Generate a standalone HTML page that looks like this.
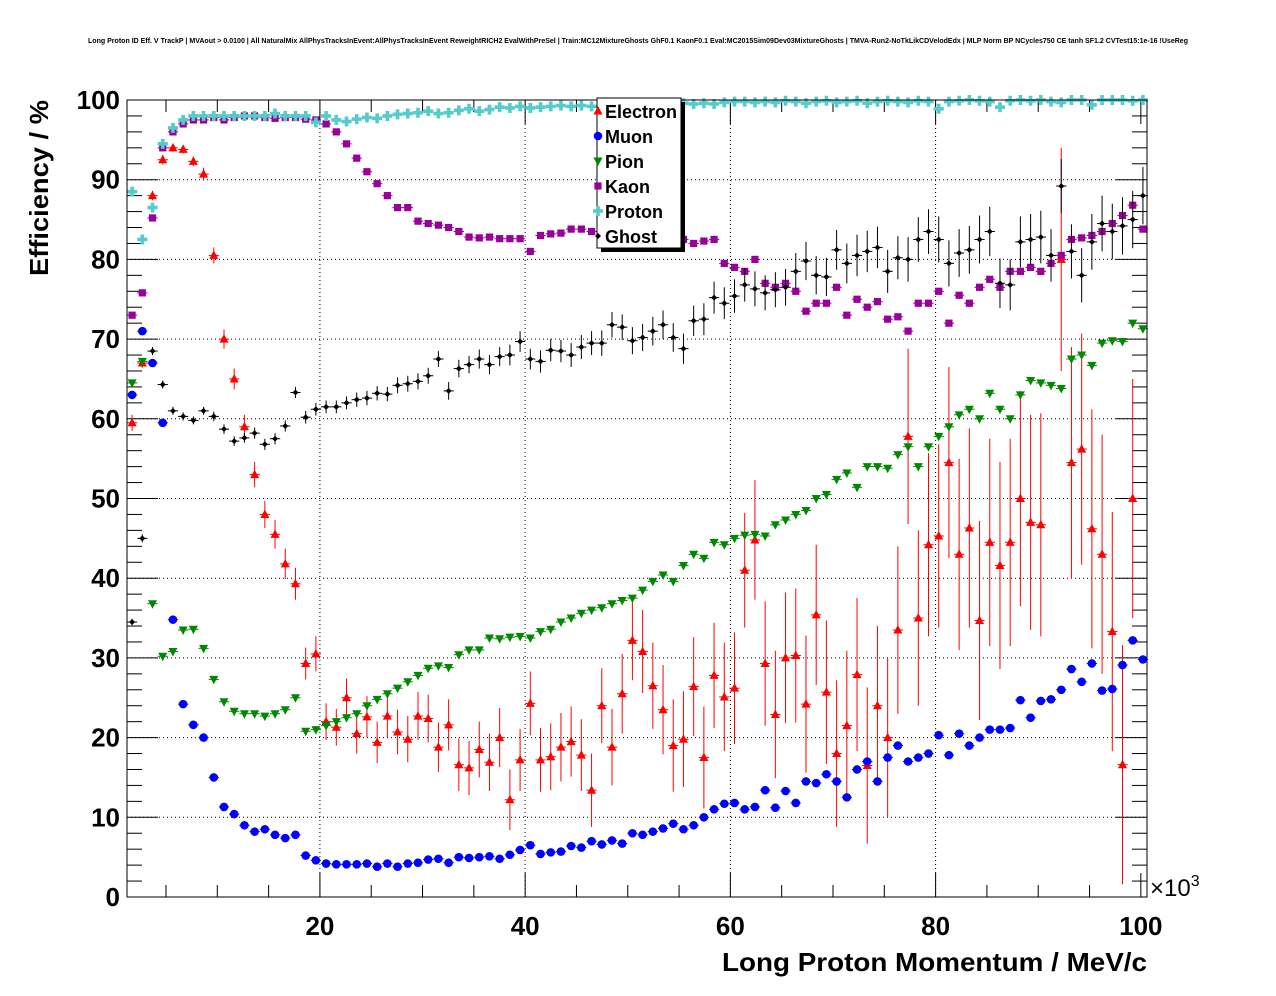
<!DOCTYPE html>
<html><head><meta charset="utf-8">
<style>
html,body{margin:0;padding:0;background:#fff;}
svg{display:block;font-family:"Liberation Sans",Arial,sans-serif;}
</style></head>
<body>
<svg id="chart" width="1276" height="996" viewBox="0 0 1276 996">
<rect width="1276" height="996" fill="#fff"/>
<text x="88" y="43" font-size="7" font-weight="bold" textLength="1100" lengthAdjust="spacingAndGlyphs">Long Proton ID Eff. V TrackP | MVAout &gt; 0.0100 | All NaturalMix AllPhysTracksInEvent:AllPhysTracksInEvent ReweightRICH2 EvalWithPreSel | Train:MC12MixtureGhosts GhF0.1 KaonF0.1 Eval:MC2015Sim09Dev03MixtureGhosts | TMVA-Run2-NoTkLikCDVelodEdx | MLP Norm BP NCycles750 CE tanh SF1.2 CVTest15:1e-16 !UseReg</text>
<g id="grid"></g>
<g id="axes"></g>
<g id="series"></g>
<rect x="127" y="100" width="1020" height="797" fill="none" stroke="#000" stroke-width="1"/>
<text x="48" y="188" font-size="26" font-weight="bold" transform="rotate(-90 48 188)" text-anchor="middle" textLength="176" lengthAdjust="spacingAndGlyphs">Efficiency / %</text>
<text x="722" y="971" font-size="26" font-weight="bold" textLength="425" lengthAdjust="spacingAndGlyphs">Long Proton Momentum / MeV/c</text>
<text x="1150" y="896" font-size="24">×10<tspan font-size="16" dy="-10">3</tspan></text>
<g id="legend">
<rect x="601" y="102" width="84" height="150" fill="#000"/>
<rect x="597" y="98" width="84" height="150" fill="#fff" stroke="#000" stroke-width="1"/>
</g>
</svg>
<script>
const momentumBinStart = 1.2;
const momentumBinWidth = 0.995;
const yTicks = [0,10,20,30,40,50,60,70,80,90,100];
const xTicks = [20,40,60,80,100];
const seriesNames = ["Electron","Muon","Pion","Kaon","Proton","Ghost"];
const protonEff = [88.5,82.5,86.5,94.5,96.5,97.5,98,98,98,98,98,98,98,98,98.3,98,98,98,97.2,98,97.5,97.3,97.6,97.8,97.7,98,98.2,98.3,98.4,98.6,98.3,98.4,98.7,98.9,98.6,98.8,99.1,99,99.2,99,99.1,99.2,99.3,99.2,99.3,99.2,99.4,99.3,99.2,99.4,99.4,99.5,99.3,99.5,99.6,99.5,99.6,99.5,99.7,99.8,99.8,99.7,99.8,99.7,99.9,99.8,99.6,99.8,99.9,99.7,99.8,99.9,99.6,99.8,99.9,99.8,99.7,99.9,99.8,98.9,99.8,99.9,100,99.9,99.8,99.1,99.9,100,99.9,100,99.8,99.7,100,100,99.4,100,100,100,99.9,100];
const kaonEff = [73,75.8,85.2,94,96,97,97.5,97.5,97.8,97.5,97.8,98,98,97.8,97.7,97.8,97.8,97.6,97.5,97,96,94.5,92.7,91,89.5,88,86.5,86.5,84.8,84.5,84.3,84,83.5,82.8,82.7,82.8,82.6,82.6,82.6,81,83,83.2,83.3,83.8,83.8,83.5,83.4,83,82.8,83.2,82.5,83,83.5,82.8,82.5,82,82.3,82.5,79.5,79,78.5,80,77,76.5,77,76,73.5,74.5,74.5,76.5,73,75,74,74.7,72.5,72.8,71,74.5,74.5,76,72,75.5,74.5,76.5,77.5,76.5,78.5,78.5,79,78.5,79.5,80.5,82.5,82.7,83,83.5,84.5,85.5,86.8,83.8];
const pionEff = [64.5,67.2,36.8,30.2,30.8,33.5,33.6,31.2,27.3,24.5,23.3,23,23,22.7,23,23.5,25,20.8,21,21.5,22,22.5,23,24,24.8,25.5,26.2,27,27.8,28.7,29,28.8,30.4,31,31,32.5,32.4,32.6,32.7,32.5,33.3,33.6,34.5,35,35.6,36,36.3,36.8,37.2,37.5,38.5,39.6,40.4,39.6,41.6,43,42.5,44.5,44.2,45,45.4,45.5,45.3,46.7,47.3,48,48.5,50,50.5,52.4,53.2,51.4,54,54,53.8,55.5,56.5,54,56.5,57.8,59,60.5,61.2,60,63.2,61.2,60,63,64.8,64.5,64.2,63.8,67.5,68,66.7,69.5,69.8,69.7,72,71.3];
const muonEff = [63,71,67,59.5,34.8,24.2,21.6,20,15,11.3,10.4,9,8.2,8.5,7.8,7.4,7.8,5.2,4.6,4.2,4.1,4.1,4.1,4.2,3.8,4.2,3.8,4.2,4.3,4.7,4.8,4.3,5,4.9,5,5.1,4.8,5.3,5.9,6.5,5.4,5.6,5.7,6.4,6.2,7,6.6,7.1,6.7,8,7.8,8.2,8.6,9.2,8.5,9,10,11,11.7,11.8,11,11.3,13.4,11.2,13.3,11.8,14.5,14.3,15.4,14.5,12.5,16,17,14.5,17.5,19,17,17.5,18,20.3,17.8,20.5,19,20,21,21,21.2,24.7,22.5,24.6,24.8,26,28.6,27,29.3,25.9,26.1,29.1,32.2,29.8];
const electronEff = [59.5,67,88,92.5,94,93.8,92.3,90.7,80.5,70,65,59,53,48,45.5,41.8,39.3,29.3,30.5,22,21.3,25,20.5,22.6,19.4,22.7,20.7,19.8,22.7,22.4,18.8,21.6,16.6,16.2,18.5,16.9,20,12.2,17.2,24.3,17.2,17.6,18.8,19.5,17.8,13.4,24,18.8,25.5,32.2,30.8,26.5,23.5,19,19.8,26.4,17.5,27.8,25.1,26.2,41,44.8,29.3,22.9,30,30.3,24.2,35.4,25.7,18,21.5,27.9,16.5,24,20,33.5,57.8,35,44.2,45.3,54.5,43,46.3,34.7,44.5,41.6,44.5,50,47,46.7,null,80,54.5,56.2,46.2,43,33.3,16.6,50,null];
const electronErr = [1,0.6,0.6,0.6,0.5,0.5,0.6,0.8,1,1.2,1.3,1.5,1.6,1.7,1.8,1.9,2,2,2.2,2.3,2.3,2.4,2.5,2.6,2.6,2.7,2.8,2.9,3,3,3.1,3.2,3.3,3.4,3.5,3.6,3.7,3.8,3.9,4,4,4.2,4.3,4.4,4.5,4.6,4.7,4.8,5,5,5.2,5.4,5.6,5.8,6,6.2,6.4,6.6,6.8,7,7.2,7.5,7.8,8,8.2,8.4,8.6,8.8,9,9.2,9.4,9.6,9.8,10,10,10.5,11,11,11.5,11.5,12,12,12.5,12.5,13,13,13,13.5,13.5,14,14,14,14.5,14.5,15,15,15,15,15,15];
const ghostEff = [34.5,45,68.5,64.3,61,60.3,59.8,61,60.3,58.7,57.2,57.6,58.2,56.8,57.5,59.1,63.3,60.2,61.2,61.5,61.5,62,62.4,62.6,63.2,63.1,64.2,64.4,64.7,65.4,67.5,63.5,66.3,66.8,67.5,66.8,67.8,68,69.7,67.5,67.2,68.6,68.5,68,69,69.5,69.5,71.8,71.5,69.8,70.2,71,71.8,70.2,68.8,72.3,72.5,75.2,74.5,75.4,76.8,76.3,75.8,76.2,76.5,78.5,79.8,78,77.8,81.2,79.5,80.5,81,81.5,78.5,80.2,80,82.5,83.5,82.5,79.5,80.8,81.2,82.5,83.5,77,76.8,82.2,82.5,82.8,80.5,89.2,81,78,82.2,84.5,83.5,84.2,85,88];
const ghostErr = [0.4,0.5,0.5,0.5,0.5,0.5,0.5,0.5,0.6,0.6,0.6,0.6,0.7,0.7,0.7,0.7,0.7,0.8,0.8,0.8,0.8,0.8,0.9,0.9,0.9,0.9,1,1,1,1,1,1.1,1.1,1.1,1.2,1.2,1.2,1.3,1.3,1.3,1.4,1.4,1.4,1.5,1.5,1.5,1.6,1.6,1.6,1.7,1.7,1.8,1.8,1.8,1.9,1.9,2,2,2,2.1,2.1,2.2,2.2,2.2,2.3,2.3,2.4,2.4,2.4,2.5,2.5,2.6,2.6,2.6,2.7,2.7,2.8,2.8,2.8,2.9,2.9,3,3,3,3.1,3.1,3.2,3.2,3.2,3.3,3.3,3.4,3.4,3.4,3.5,3.5,3.5,3.6,3.6,3.6];

const NS = "http://www.w3.org/2000/svg";
const L = 127, R = 1147, T = 100, B = 897;
const XMIN = 1.2, XMAX = 100.6, YMIN = 0, YMAX = 100;
function xs(v){ return L + (v - XMIN) / (XMAX - XMIN) * (R - L); }
function ys(v){ return B - (v - YMIN) / (YMAX - YMIN) * (B - T); }
function mk(tag, attrs, parent){ const e = document.createElementNS(NS, tag); for (const k in attrs) e.setAttribute(k, attrs[k]); parent.appendChild(e); return e; }

const grid = document.getElementById('grid');
const axes = document.getElementById('axes');
yTicks.forEach(t => { if (t > YMIN && t < YMAX) { const g = mk('line', {x1:L, x2:R, y1:ys(t), y2:ys(t), stroke:'#000', 'stroke-width':1, 'stroke-dasharray':'1,3'}, grid);
  
   } });
xTicks.forEach(t => { if (t < XMAX - 1) { const g = mk('line', {x1:xs(t), x2:xs(t), y1:T, y2:B, stroke:'#000', 'stroke-width':1, 'stroke-dasharray':'1,3'}, grid);
  
   } });
for (let v = 0; v <= 100; v += 2) {
  const major = v % 10 === 0;
  const len = major ? 31 : 15;
  mk('line', {x1:L, x2:L+len, y1:ys(v), y2:ys(v), stroke:'#000'}, axes);
  mk('line', {x1:R, x2:R-len, y1:ys(v), y2:ys(v), stroke:'#000'}, axes);
}
yTicks.forEach(t => {
  const tx = mk('text', {x:120, y:ys(t)+9, 'font-size':26, 'font-weight':'bold', 'text-anchor':'end'}, axes);
  tx.textContent = t;
  
  
});
for (let v = 5; v <= 100; v += 5) {
  const major = v % 20 === 0;
  const len = major ? 24 : 12;
  mk('line', {x1:xs(v), x2:xs(v), y1:B, y2:B-len, stroke:'#000'}, axes);
  mk('line', {x1:xs(v), x2:xs(v), y1:T, y2:T+len, stroke:'#000'}, axes);
}
xTicks.forEach(t => {
  const tx = mk('text', {x:xs(t), y:935, 'font-size':26, 'font-weight':'bold', 'text-anchor':'middle'}, axes);
  tx.textContent = t;
  
  
});

function marker(parent, type, cx, cy, color){
  let e;
  if (type === 'tri') e = mk('polygon', {points:`${cx},${cy-5} ${cx-4.5},${cy+3.5} ${cx+4.5},${cy+3.5}`, fill:color}, parent);
  else if (type === 'trid') e = mk('polygon', {points:`${cx},${cy+5} ${cx-4.5},${cy-3.5} ${cx+4.5},${cy-3.5}`, fill:color}, parent);
  else if (type === 'circ') e = mk('circle', {cx:cx, cy:cy, r:4.3, fill:color}, parent);
  else if (type === 'sq') e = mk('rect', {x:cx-3.6, y:cy-3.6, width:7.2, height:7.2, fill:color}, parent);
  else if (type === 'cross') e = mk('path', {d:`M${cx-5},${cy-1.8}h3.2v-3.2h3.6v3.2h3.2v3.6h-3.2v3.2h-3.6v-3.2h-3.2z`, fill:color}, parent);
  else e = mk('polygon', {points:`${cx},${cy-3} ${cx-3},${cy} ${cx},${cy+3} ${cx+3},${cy}`, fill:color}, parent);
  return e;
}

const seriesDefs = [
  {name:'electron', vals:electronEff, err:electronErr, color:'#ff0000', m:'tri'},
  {name:'muon', vals:muonEff, err:null, color:'#0000ff', m:'circ'},
  {name:'pion', vals:pionEff, err:null, color:'#008800', m:'trid'},
  {name:'kaon', vals:kaonEff, err:null, color:'#990099', m:'sq'},
  {name:'proton', vals:protonEff, err:null, color:'#55cccc', m:'cross'},
  {name:'ghost', vals:ghostEff, err:ghostErr, color:'#000000', m:'diam'}
];
const sg = document.getElementById('series');
seriesDefs.forEach(s => {
  const g = mk('g', {}, sg);
  
  
  s.vals.forEach((v, i) => {
    if (v === null) return;
    const p = momentumBinStart + (i + 0.5) * momentumBinWidth;
    const cx = xs(p), cy = ys(v);
    const hw = xs(momentumBinStart + momentumBinWidth) - xs(momentumBinStart);
    mk('line', {x1:cx-hw/2, x2:cx+hw/2, y1:cy, y2:cy, stroke:s.color, 'stroke-width':1}, g);
    const e = s.err ? s.err[i] : 0.4;
    mk('line', {x1:cx, x2:cx, y1:ys(Math.min(100, v+e)), y2:ys(Math.max(0, v-e)), stroke:s.color, 'stroke-width':1}, g);
    const m = marker(g, s.m, cx, cy, s.color);
    
    
  });
});

const lg = document.getElementById('legend');
seriesDefs.forEach((s, i) => {
  const y = 111 + i * 25;
  const g = mk('g', {}, lg);
  
  
  marker(g, s.m, 598, y, s.color);
  const t = mk('text', {x:605, y:y+7, 'font-size':18, 'font-weight':'bold'}, g);
  t.textContent = seriesNames[i];
});
</script>
</body></html>
